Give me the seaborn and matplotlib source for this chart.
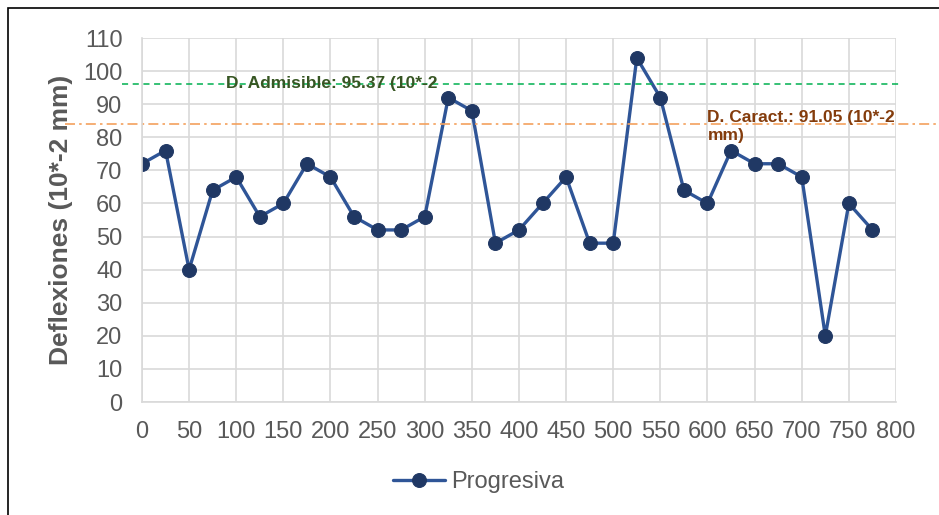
import matplotlib
matplotlib.use("Agg")
import matplotlib.pyplot as plt
import matplotlib.patches as mpatches
import pandas as pd
import seaborn as sns

# progresiva (m) and deflexion readings
progresiva = [0, 25, 50, 75, 100, 125, 150, 175, 200, 225, 250, 275, 300, 325, 350, 375,
              400, 425, 450, 475, 500, 525, 550, 575, 600, 625, 650, 675, 700, 725, 750, 775]
deflexion = [72, 76, 40, 64, 68, 56, 60, 72, 68, 56, 52, 52, 56, 92, 88, 48,
             52, 60, 68, 48, 48, 104, 92, 64, 60, 76, 72, 72, 68, 20, 60, 52]

d_admisible = 96.2
d_caract = 84.0
label_admisible = "D. Admisible: 95.37 (10*-2"
label_caract = "D. Caract.: 91.05 (10*-2\nmm)"

GRAY = "#595959"
GRID = "#D9D9D9"

sns.set_style("white")
plt.rcParams["font.family"] = ["Liberation Sans", "DejaVu Sans"]

df = pd.DataFrame({"Progresiva": progresiva, "Deflexion": deflexion})

fig = plt.figure(figsize=(9.39, 5.15), dpi=100)
ax = fig.add_axes([0.1512, 0.2194, 0.803, 0.7068])

sns.lineplot(data=df, x="Progresiva", y="Deflexion", ax=ax, color="#2F5597",
             linewidth=2.4, marker="o", markersize=10, markerfacecolor="#203864",
             markeredgecolor="#203864", label="Progresiva", legend=False)

ax.set_xlim(0, 800)
ax.set_ylim(0, 110)
ax.set_xticks(range(0, 801, 50))
ax.set_yticks(range(0, 111, 10))
ax.grid(True, color=GRID, linewidth=1.2)
ax.set_axisbelow(True)
for side in ["top", "right"]:
    ax.spines[side].set_visible(False)
for side in ["left", "bottom"]:
    ax.spines[side].set_color(GRID)
    ax.spines[side].set_linewidth(1.2)
ax.tick_params(axis="both", length=0, labelsize=17, labelcolor=GRAY)
ax.tick_params(axis="x", pad=14)
ax.tick_params(axis="y", pad=14)
ax.set_xlabel("")
ax.set_ylabel("Deflexiones (10*-2 mm)", fontsize=19, fontweight="bold", color=GRAY, labelpad=7)

# reference lines reaching outside the plot area
ax.axhline(d_admisible, xmin=-0.027, xmax=1.008, color="#00B050", linestyle=(0, (4, 3)),
           linewidth=1.1, clip_on=False)
ax.axhline(d_caract, xmin=-0.102, xmax=1.06, color="#F4A15D", linestyle=(0, (6, 2.5, 1.5, 2.5)),
           linewidth=1.2, clip_on=False)

ax.text(89, d_admisible, label_admisible, color="#375623", fontsize=12.5, fontweight="bold",
        va="center", ha="left")
ax.text(600, d_caract + 4.3, label_caract, color="#843C0C", fontsize=12.5, fontweight="bold",
        va="top", ha="left", linespacing=1.25)

handles, labels = ax.get_legend_handles_labels()
fig.legend(handles, labels, loc="center", bbox_to_anchor=(0.51, 0.064), frameon=False,
           fontsize=17, labelcolor=GRAY, handlelength=2.2, handletextpad=0.25)

# outer frame of the chart
fig.patches.append(mpatches.Rectangle((8 / 939, -0.1), 1.2, 1 - 8 / 515 + 0.1,
                                      transform=fig.transFigure, fill=False,
                                      edgecolor="black", linewidth=1.2, zorder=0))

fig.savefig("out.png", dpi=100)
